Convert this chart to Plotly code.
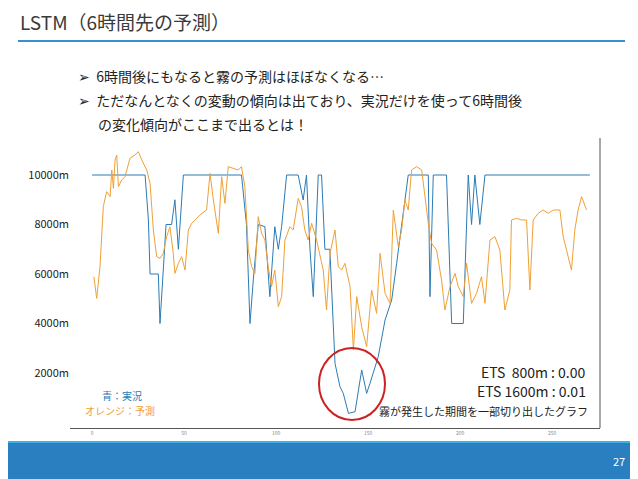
import plotly.graph_objects as go

# Forecast (orange)
fc_x = [1,2.5,4.3,6.1,7.9,9.8,10.7,11.6,12.5,13.4,14.3,16.1,17.9,20.6,23.3,25.1,27,29.7,31.5,33.3,
        35.1,36.9,38.7,40.5,42.3,44.1,45,46.9,48.7,50.5,52.3,54.1,55.9,58.6,62.2,64.1,65.9,68.6,70.4,72.2,
        74,76.7,79.4,81.2,83,84.9,86.7,88.5,90.3,92.1,93.9,95.7,97.5,99.3,101.2,103,104.8,107.5,109.3,112,
        113.8,115.6,117.4,119.3,122,125.6,127.4,
        129.3,132,133.8,135.6,137.4,140.2,142,143.8,146.5,149.2,151.9,154.6,156.5,159.2,161.9,163.7,166.4,168.2,170,171.8,
        173.6,176.4,179.1,180.9,182.7,184.5,187.2,189.9,191.7,194.5,197.2,199,201.7,203.5,206.2,208.9,211.6,213.5,216.2,218.9,
        221.6,224.3,227,227.9,230.7,233.4,236.1,237.9,239.7,242.4,245.1,247.9,250.6,254.2,256,258.7,260.5,262.3,264.1,266,268.7]
fc_y = [5892,5016,6296,8720,9327,9124,10202,9461,10606,10808,9529,9798,9933,10674,10808,10943,10606,10202,9663,7777,
        6700,6633,6834,7508,7912,6834,6026,6430,6700,6161,7777,8047,8182,8384,8586,10067,8990,7643,9933,8855,
        10337,10269,10202,10337,9529,6969,6296,6026,8316,7643,7373,6296,5488,6161,4680,5084,7373,7912,7777,9057,
        8720,7777,7373,8047,7373,6161,4545,
        6834,7777,6296,6161,6430,5488,2928,5084,3871,3063,5353,4410,6834,5218,4814,8586,7104,7777,8990,8586,
        10202,10337,10202,9124,8047,7239,6969,5757,4545,5488,6026,5488,5084,6430,4814,5218,5892,4814,7373,7508,
        6969,4545,5353,8182,8249,8182,8182,5353,8182,8451,8586,8451,8586,8586,7508,6700,6161,7777,8586,9124,8586]

# Observed (blue)
ob_x = [0,28.8,30.6,31.5,36,36.9,40.2,43.2,45,46.9,49.6,81.2,83.9,85.8,87.6,90.3,93.9,96.6,99.3,101.2,
        103,105.7,112,114.7,116.5,118.4,120.2,122.9,124.7,126.5,129.2,
        132,134.7,136.5,139.3,142.9,146.5,149.2,151,155.5,159.2,162.8,165.5,168.2,170,171.8,182.7,183.6,185.4,192.6,
        195.4,201.7,204.4,206.2,208,210.7,213.5,270.5]
ob_y = [10000,10000,8182,6000,6000,4000,8000,8000,9000,7000,10000,10000,8000,4000,5757,8000,7912,5084,7912,7000,
        7912,10000,10000,8990,10000,7000,5084,10000,10000,7000,7000,
        2390,1447,1177,369,436,2120,1177,1581,2659,4141,4949,6430,7912,8855,10000,10000,5084,10000,10000,
        4000,4000,10000,8000,10000,8000,10000,10000]

y_ticks = [2000, 4000, 6000, 8000, 10000]
y_labels = ["2000m", "4000m", "6000m", "8000m", "10000m"]
x_ticks = [0, 50, 100, 150, 200, 250]

FONT = "Noto Sans CJK JP"
W, H = 638, 479
OFF = 8  # page body margin
px = lambda v: (v - OFF) / W
py = lambda v: 1 - (v - OFF) / H

fig = go.Figure()
fig.add_trace(go.Scatter(x=ob_x, y=ob_y, mode="lines", line=dict(color="#2b7bb5", width=1), showlegend=False))
fig.add_trace(go.Scatter(x=fc_x, y=fc_y, mode="lines", line=dict(color="#f0a035", width=1), showlegend=False))

fig.update_layout(
    width=W, height=H, margin=dict(l=0, r=0, t=0, b=0),
    paper_bgcolor="white", plot_bgcolor="white",
    font=dict(family=FONT, color="#333"),
    xaxis=dict(domain=[px(70), px(600)], range=[-12, 276], tickvals=x_ticks,
               tickfont=dict(size=5, color="#888"), showgrid=False, zeroline=False,
               showline=True, linecolor="#555", linewidth=1, ticks=""),
    yaxis=dict(domain=[py(428), py(135)], range=[-222, 11616], tickvals=y_ticks, ticktext=y_labels,
               tickfont=dict(size=11, color="#222"), showgrid=False, zeroline=False, ticks=""),
    shapes=[
        dict(type="line", xref="paper", yref="paper", x0=px(18), x1=px(625), y0=py(41), y1=py(41),
             line=dict(color="#3a8fd0", width=2)),
        dict(type="line", xref="paper", yref="paper", x0=px(600), x1=px(600), y0=py(138), y1=py(428),
             line=dict(color="#555", width=1)),
        dict(type="rect", xref="paper", yref="paper", x0=0, x1=1, y0=0, y1=py(442),
             fillcolor="#2a7fc1", line=dict(width=0)),
        dict(type="line", xref="paper", yref="paper", x0=0, x1=1, y0=py(442), y1=py(442),
             line=dict(color="#3fb0e8", width=2)),
        dict(type="circle", xref="paper", yref="paper", x0=px(319), x1=px(385), y0=py(420), y1=py(348),
             line=dict(color="#cc2222", width=2)),
    ],
    annotations=[
        dict(text="LSTM（6時間先の予測）", x=px(18), y=py(21), xref="paper", yref="paper", xanchor="left",
             yanchor="middle", showarrow=False, font=dict(size=19, color="#3a3a3a")),
        dict(text="➢  6時間後にもなると霧の予測はほぼなくなる…", x=px(76), y=py(76), xref="paper", yref="paper",
             xanchor="left", yanchor="middle", showarrow=False, font=dict(size=14, color="#222")),
        dict(text="➢  ただなんとなくの変動の傾向は出ており、実況だけを使って6時間後", x=px(76), y=py(100),
             xref="paper", yref="paper", xanchor="left", yanchor="middle", showarrow=False,
             font=dict(size=14, color="#222")),
        dict(text="の変化傾向がここまで出るとは！", x=px(96), y=py(124), xref="paper", yref="paper",
             xanchor="left", yanchor="middle", showarrow=False, font=dict(size=14, color="#222")),
        dict(text="ETS  800m : 0.00", x=px(588), y=py(372), xref="paper", yref="paper", xanchor="right",
             yanchor="middle", showarrow=False, font=dict(size=14, color="#222")),
        dict(text="ETS 1600m : 0.01", x=px(588), y=py(391), xref="paper", yref="paper", xanchor="right",
             yanchor="middle", showarrow=False, font=dict(size=14, color="#222")),
        dict(text="霧が発生した期間を一部切り出したグラフ", x=px(590), y=py(411), xref="paper", yref="paper",
             xanchor="right", yanchor="middle", showarrow=False, font=dict(size=11, color="#222")),
        dict(text="青：実況", x=px(122), y=py(395), xref="paper", yref="paper", xanchor="center",
             yanchor="middle", showarrow=False, font=dict(size=10, color="#2b7bb5")),
        dict(text="オレンジ：予測", x=px(120), y=py(410), xref="paper", yref="paper", xanchor="center",
             yanchor="middle", showarrow=False, font=dict(size=10, color="#f0a035")),
        dict(text="27", x=px(627), y=py(461), xref="paper", yref="paper", xanchor="right",
             yanchor="middle", showarrow=False, font=dict(size=11, color="white")),
    ],
)
fig.write_html("out.html")
